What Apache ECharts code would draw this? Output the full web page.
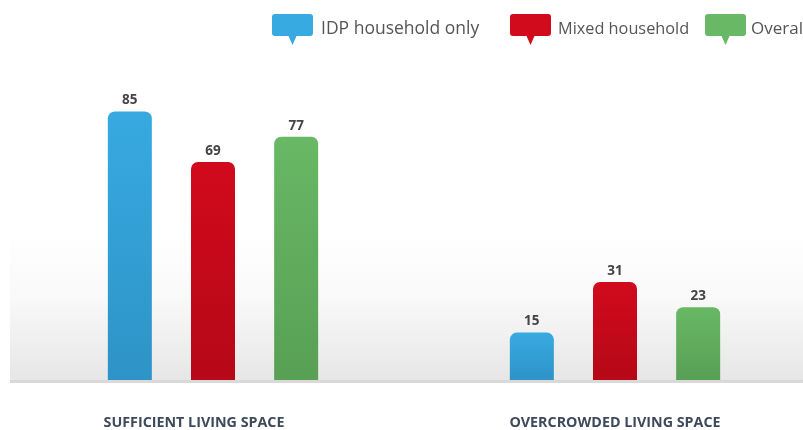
<!DOCTYPE html>
<html>
<head>
<meta charset="utf-8">
<script src="https://cdn.jsdelivr.net/npm/echarts@6/dist/echarts.min.js"></script>
<style>
html,body{margin:0;padding:0;background:#fff;}
#main{width:803px;height:430px;}
</style>
</head>
<body>
<div id="main"></div>
<script>
const categories = ['SUFFICIENT LIVING SPACE', 'OVERCROWDED LIVING SPACE'];
const seriesNames = ['IDP household only', 'Mixed household', 'Overall'];
const idpOnly = [85, 15];
const mixed = [69, 31];
const overall = [77, 23];

const chart = echarts.init(document.getElementById('main'));
const font = '"Open Sans", "Liberation Sans", sans-serif';
const bubble = 'path://M3,0 H38 Q41,0 41,3 V19 Q41,22 38,22 H24.5 L20.5,31 L16.5,22 H3 Q0,22 0,19 V3 Q0,0 3,0 Z';

function grad(top, bottom) {
  return new echarts.graphic.LinearGradient(0, 0, 0, 1, [
    {offset: 0, color: top}, {offset: 1, color: bottom}
  ]);
}
const colors = [['#37aae1', '#2e93c6'], ['#d10a1c', '#b50818'], ['#68b865', '#58a054']];
const solid = ['#37aae1', '#d10a1c', '#68b865'];
const dataSets = [idpOnly, mixed, overall];

const series = seriesNames.map((name, i) => ({
  name: name,
  type: 'bar',
  data: dataSets[i],
  barWidth: 44,
  barGap: '89%',
  itemStyle: {color: grad(colors[i][0], colors[i][1]), borderRadius: [7, 7, 0, 0]},
  label: {
    show: true, position: 'top', distance: 4,
    color: '#444', fontWeight: 'bold', fontSize: 13.5, fontFamily: font
  }
}));

const legendLefts = [272, 510, 705];
const legendSizes = [17.5, 16.3, 17];
const legendPad = [[4, 0, 0, 3], [0, 0, 3, 2], [6, 0, 0, 0]];
const legends = seriesNames.map((n, i) => ({
  left: legendLefts[i], top: 14, padding: 0,
  itemWidth: 41, itemHeight: 31, itemGap: 0,
  selectedMode: false,
  textStyle: {fontFamily: font, fontSize: legendSizes[i], color: '#555', padding: legendPad[i]},
  data: [{name: n, icon: bubble, itemStyle: {color: solid[i]}}]
}));

chart.setOption({
  animation: false,
  backgroundColor: '#fff',
  graphic: [{
    type: 'rect', z: -10, silent: true,
    shape: {x: 10, y: 230, width: 800, height: 151},
    style: {fill: new echarts.graphic.LinearGradient(0, 0, 0, 1, [
      {offset: 0, color: 'rgba(255,255,255,1)'},
      {offset: 0.45, color: '#f9f9f9'},
      {offset: 1, color: '#e6e6e6'}
    ])}
  }, {
    type: 'rect', z: -9, silent: true,
    shape: {x: 10, y: 380, width: 800, height: 3},
    style: {fill: '#d9d9d9'}
  }],
  legend: legends,
  grid: {left: 213, right: 188, top: 64, bottom: 49, containLabel: false},
  xAxis: {
    type: 'category',
    boundaryGap: false,
    data: [
      {value: categories[0], textStyle: {padding: [0, 38, 0, 0]}},
      {value: categories[1]}
    ],
    axisLine: {show: false}, axisTick: {show: false},
    axisLabel: {margin: 36, color: '#3e4a5c', fontWeight: 'bold', fontSize: 14.3, fontFamily: font}
  },
  yAxis: {
    type: 'value', min: 0, max: 100, show: false,
    splitLine: {show: false}
  },
  series: series
});
</script>
</body>
</html>
